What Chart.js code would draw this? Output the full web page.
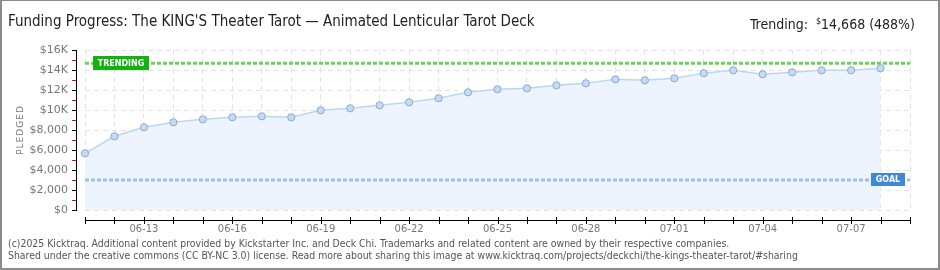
<!DOCTYPE html>
<html><head><meta charset="utf-8">
<script src="https://cdn.jsdelivr.net/npm/chart.js@4.4.1/dist/chart.umd.min.js"></script>
<style>
html,body{margin:0;padding:0;background:#fff;}
body{width:940px;height:270px;position:relative;overflow:hidden;}
#c{position:absolute;left:0;top:0;}
#frame{position:absolute;left:0;top:0;width:940px;height:270px;box-sizing:border-box;border:2px solid #8c8c8c;border-top-width:1px;pointer-events:none;}
#title{position:absolute;left:8px;top:11px;font-family:"DejaVu Sans Condensed","DejaVu Sans";font-stretch:condensed;font-size:15px;color:#222;white-space:nowrap;line-height:20px;}
#trend{position:absolute;right:25px;top:11px;font-family:"DejaVu Sans Condensed","DejaVu Sans";font-stretch:condensed;font-size:14px;color:#222;white-space:nowrap;line-height:20px;}
#trend sup{font-size:9px;vertical-align:5px;margin-left:4px;}
#foot{position:absolute;left:8px;top:237px;font-family:"DejaVu Sans Condensed","DejaVu Sans";font-stretch:condensed;font-size:10.4px;color:#555;white-space:nowrap;line-height:12px;}
</style></head>
<body>
<canvas id="c" width="940" height="270"></canvas>
<div id="title">Funding Progress: The KING'S Theater Tarot — Animated Lenticular Tarot Deck</div>
<div id="trend">Trending: <sup>$</sup>14,668 (488%)</div>
<div id="foot">(c)2025 Kicktraq. Additional content provided by Kickstarter Inc. and Deck Chi. Trademarks and related content are owned by their respective companies.<br>Shared under the creative commons (CC BY-NC 3.0) license. Read more about sharing this image at www.kicktraq.com/projects/deckchi/the-kings-theater-tarot/#sharing</div>
<div id="frame"></div>
<script>
const days = ['06-11','06-12','06-13','06-14','06-15','06-16','06-17','06-18','06-19','06-20',
  '06-21','06-22','06-23','06-24','06-25','06-26','06-27','06-28','06-29','06-30',
  '07-01','07-02','07-03','07-04','07-05','07-06','07-07','07-08','07-09'];
const tickLabels = ['06-13','06-16','06-19','06-22','06-25','06-28','07-01','07-04','07-07'];
const pledged = [5670,7370,8270,8770,9070,9270,9370,9270,9970,10170,
  10470,10770,11170,11770,12070,12170,12470,12670,13070,12970,
  13170,13670,13970,13570,13770,13970,13970,14170];
const trending = 14668;
const goal = 3000;
const yTicks = [0,2000,4000,6000,8000,10000,12000,14000,16000];
const yTickLabels = ['$0','$2,000','$4,000','$6,000','$8,000','$10K','$12K','$14K','$16K'];
const yMinorTicks = [1000,3000,5000,7000,9000,11000,13000,15000];

const deco = {
  id:'deco',
  afterDatasetsDraw(chart){
    const ctx = chart.ctx, x = chart.scales.x, y = chart.scales.y;
    ctx.save();
    // y axis line
    ctx.fillStyle = '#000';
    const yTop = Math.round(y.getPixelForValue(16000)), yBot = Math.round(y.getPixelForValue(0));
    ctx.fillRect(76, yTop, 1, yBot - yTop + 1);
    yTicks.forEach(v=>{ const p=Math.round(y.getPixelForValue(v)); ctx.fillStyle='#000'; ctx.fillRect(72,p,5,1); });
    yMinorTicks.forEach(v=>{ const p=Math.round(y.getPixelForValue(v)); ctx.fillStyle='#e00'; ctx.fillRect(72,p,4,1); });
    // x axis line
    ctx.fillStyle='#000';
    const x0 = Math.round(x.getPixelForValue(0)), x1 = Math.round(x.getPixelForValue(days.length-1));
    ctx.fillRect(x0, 220, x1 - x0 + 1, 1);
    days.forEach((d,i)=>{ const p=Math.round(x.getPixelForValue(i)); ctx.fillRect(p,217,1,7); });
    // y title
    ctx.save();
    ctx.translate(21,130); ctx.rotate(-Math.PI/2);
    ctx.fillStyle='#777'; ctx.font='9px "DejaVu Sans"'; ctx.textAlign='center'; ctx.textBaseline='middle';
    ctx.letterSpacing='1px';
    ctx.fillText('PLEDGED',0,0);
    ctx.restore();
    // labels
    ctx.letterSpacing='0px';
    const ty = Math.round(y.getPixelForValue(trending));
    ctx.fillStyle='#14b210';
    ctx.fillRect(chart.chartArea.left+8, ty-7, 56, 14);
    ctx.fillStyle='#fff'; ctx.font='bold 8px "DejaVu Sans"'; ctx.textAlign='center'; ctx.textBaseline='middle';
    ctx.fillText('TRENDING', chart.chartArea.left+8+28, ty+0.5);
    const gy = Math.round(y.getPixelForValue(goal));
    ctx.fillStyle='#3f88d8';
    ctx.fillRect(chart.chartArea.right-39, gy-7, 34, 13);
    ctx.fillStyle='#fff';
    ctx.fillText('GOAL', chart.chartArea.right-39+17, gy);
    ctx.restore();
  }
};

new Chart(document.getElementById('c'), {
  type:'line',
  data:{
    labels: days,
    datasets:[
      {data: days.map(()=>trending), borderColor:'#6dcf5e', borderWidth:3, borderDash:[4,2], pointRadius:0, fill:false, order:1},
      {data: days.map(()=>goal), borderColor:'#9fc0e8', borderWidth:3, borderDash:[4,2], pointRadius:0, fill:false, order:1},
      {data: pledged, borderColor:'#bcd6f2', borderWidth:1.5, backgroundColor:'#edf4fd', fill:'origin',
       pointRadius:3.6, pointBackgroundColor:'#c3dbf6', pointBorderColor:'#8ea9cc', pointBorderWidth:1, tension:0, order:3}
    ]
  },
  options:{
    responsive:false, animation:false, devicePixelRatio:1,
    layout:{padding:{top:50,right:30,left:0,bottom:0}},
    plugins:{legend:{display:false}, tooltip:{enabled:false}},
    scales:{
      x:{type:'category', offset:false,
        grid:{color:'#e3e3e3', drawTicks:false, lineWidth:1},
        border:{display:false, dash:[5,4]},
        ticks:{autoSkip:false, maxRotation:0, minRotation:0, padding:13, color:'#777', font:{family:'DejaVu Sans', size:10},
          callback:(v,i)=> tickLabels.includes(days[i]) ? days[i] : ''},
        afterFit:(s)=>{ s.height = 60; }
      },
      y:{min:0, max:16000,
        grid:{color:'#e3e3e3', drawTicks:false, lineWidth:1},
        border:{display:false, dash:[5,4]},
        afterBuildTicks:(s)=>{ s.ticks = yTicks.map(v=>({value:v})); },
        ticks:{padding:17, color:'#777', font:{family:'DejaVu Sans', size:11},
          callback:(v)=> yTickLabels[yTicks.indexOf(v)]},
        afterFit:(s)=>{ s.width = 85; }
      }
    }
  },
  plugins:[deco]
});
</script>
</body></html>
